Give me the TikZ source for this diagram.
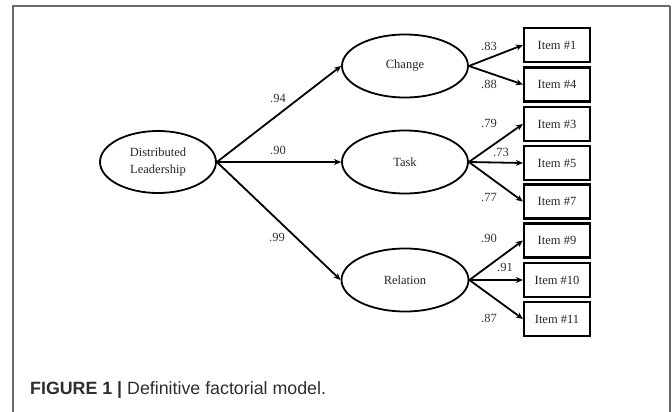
\documentclass[tikz,border=0pt]{standalone}
\usepackage{fontspec}
\setmainfont{Liberation Serif}
\newfontfamily\capfont{Liberation Sans}
\usetikzlibrary{shapes.geometric,arrows.meta}
\definecolor{framegray}{HTML}{6A6A6A}
\definecolor{captext}{HTML}{2E2E2E}
\tikzset{
  latent/.style={ellipse,draw,line width=1.8pt,inner sep=0pt,font=\fontsize{12.5}{16.5}\selectfont,align=center,text=black!85},
  itembox/.style={rectangle,draw,line width=2.2pt,minimum width=66pt,minimum height=34pt,inner sep=0pt,font=\fontsize{12.5}{14}\selectfont,text=black!85},
  path/.style={line width=1.8pt,-{Stealth[length=7pt,width=6pt]}},
  coef/.style={font=\fontsize{12.5}{14}\selectfont,inner sep=0pt,text=black!80}
}
\begin{document}
\begin{tikzpicture}[x=1pt,y=-1pt]
\useasboundingbox (0,0) rectangle (672,412);
\fill[white] (0,0) rectangle (672,412);
% frame
\draw[framegray,line width=1.3pt] (13,412) -- (13,6) -- (670,6);
\draw[framegray,line width=2pt] (670,6) -- (670,412);
% latent variables
\node[latent,minimum width=116pt,minimum height=62pt] (dl) at (158,162) {Distributed\\Leadership};
\node[latent,minimum width=126pt,minimum height=63pt] (change) at (405,66) {Change};
\node[latent,minimum width=126pt,minimum height=63pt] (task) at (405,162) {Task};
\node[latent,minimum width=127pt,minimum height=63pt] (relation) at (405,280) {Relation};
% items
\node[itembox] (i1) at (557,45) {Item \#1};
\node[itembox] (i4) at (557,84.5) {Item \#4};
\node[itembox] (i3) at (557,124) {Item \#3};
\node[itembox] (i5) at (557,163) {Item \#5};
\node[itembox] (i7) at (557,201.5) {Item \#7};
\node[itembox] (i9) at (557,240.5) {Item \#9};
\node[itembox] (i10) at (557,280) {Item \#10};
\node[itembox] (i11) at (557,319) {Item \#11};
% paths
\draw[path] (dl.east) -- (change.west);
\draw[path] (dl.east) -- (task.west);
\draw[path] (dl.east) -- (relation.west);
\draw[path] (change.east) -- (i1.west);
\draw[path] (change.east) -- (i4.west);
\draw[path] (task.east) -- (i3.west);
\draw[path] (task.east) -- (i5.west);
\draw[path] (task.east) -- (i7.west);
\draw[path] (relation.east) -- (i9.west);
\draw[path] (relation.east) -- (i10.west);
\draw[path] (relation.east) -- (i11.west);
% coefficients
\node[coef] (c94) at (278,98) {.94};
\node[coef] (c90) at (278,150) {.90};
\node[coef] (c99) at (277,237) {.99};
\node[coef] (c83) at (489,46) {.83};
\node[coef] (c88) at (489,84) {.88};
\node[coef] (c79) at (489,123) {.79};
\node[coef] (c73) at (501,152) {.73};
\node[coef] (c77) at (489,197) {.77};
\node[coef] (c90b) at (489,238) {.90};
\node[coef] (c91) at (505,267) {.91};
\node[coef] (c87) at (489,318) {.87};
% caption
\node[anchor=west,inner sep=0pt,text=captext,font=\capfont\fontsize{17.8}{20}\selectfont] (cap) at (30,390) {\textbf{FIGURE 1 |} Definitive factorial model.};
\end{tikzpicture}
\end{document}
